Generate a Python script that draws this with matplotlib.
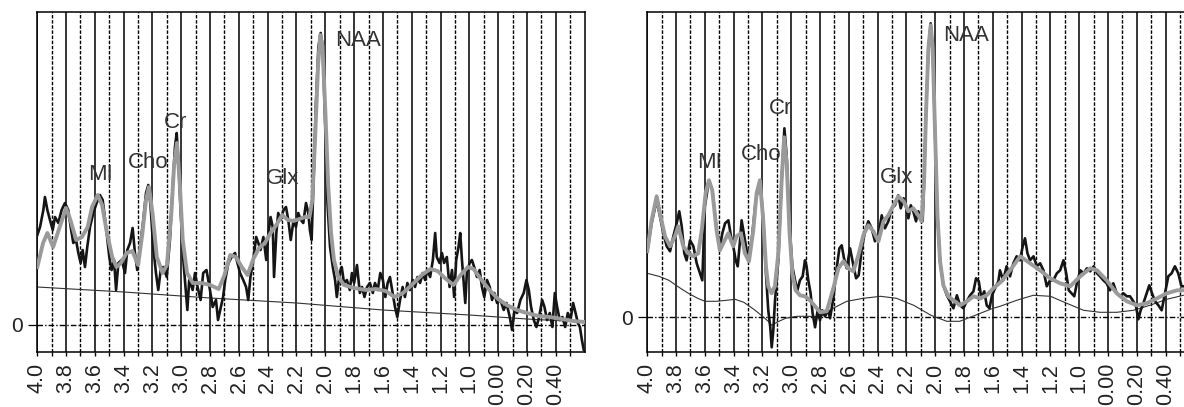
import numpy as np
import matplotlib
matplotlib.use("Agg")
import matplotlib.pyplot as plt

plt.rcParams['font.family'] = ['Liberation Sans', 'DejaVu Sans']

# x axis (ppm), labels as printed in the original figure
tick_values = [4.0, 3.8, 3.6, 3.4, 3.2, 3.0, 2.8, 2.6, 2.4, 2.2, 2.0,
               1.8, 1.6, 1.4, 1.2, 1.0, 0.8, 0.6, 0.4]
tick_labels = ['4.0', '3.8', '3.6', '3.4', '3.2', '3.0', '2.8', '2.6', '2.4', '2.2', '2.0',
               '1.8', '1.6', '1.4', '1.2', '1.0', '0.00', '0.20', '0.40']
odd_tenths = [3.9, 3.7, 3.5, 3.3, 3.1, 2.9, 2.7, 2.5, 2.3, 2.1, 1.9,
              1.7, 1.5, 1.3, 1.1, 0.9, 0.7, 0.5, 0.3]

peak_names = ['MI', 'Cho', 'Cr', 'Glx', 'NAA']

# ---- left spectrum ----
left_spec_ppm = [4.000, 3.981, 3.958, 3.947, 3.930, 3.912, 3.893, 3.877, 3.854, 3.831, 3.808, 3.785,
                 3.768, 3.750, 3.731, 3.715, 3.699, 3.685, 3.669, 3.653, 3.634, 3.611, 3.588, 3.565,
                 3.546, 3.523, 3.500, 3.484, 3.467, 3.453, 3.437, 3.414, 3.391, 3.375, 3.356, 3.338,
                 3.322, 3.306, 3.287, 3.264, 3.245, 3.229, 3.213, 3.195, 3.176, 3.160, 3.143, 3.125,
                 3.101, 3.079, 3.060, 3.044, 3.032, 3.018, 3.004, 2.986, 2.968, 2.958, 2.945, 2.921,
                 2.905, 2.887, 2.866, 2.848, 2.825, 2.801, 2.782, 2.759, 2.745, 2.730, 2.710, 2.695,
                 2.673, 2.650, 2.627, 2.610, 2.592, 2.570, 2.550, 2.535, 2.520, 2.500, 2.480, 2.465,
                 2.450, 2.430, 2.410, 2.395, 2.380, 2.365, 2.356, 2.340, 2.327, 2.310, 2.290, 2.273,
                 2.257, 2.240, 2.220, 2.204, 2.188, 2.170, 2.153, 2.134, 2.118, 2.107, 2.095, 2.083,
                 2.065, 2.048, 2.032, 2.018, 2.002, 1.985, 1.967, 1.948, 1.932, 1.920, 1.900, 1.886,
                 1.870, 1.850, 1.830, 1.815, 1.800, 1.780, 1.760, 1.745, 1.728, 1.710, 1.690, 1.670,
                 1.655, 1.636, 1.618, 1.600, 1.583, 1.567, 1.551, 1.532, 1.516, 1.500, 1.481, 1.463,
                 1.447, 1.430, 1.412, 1.393, 1.377, 1.360, 1.342, 1.323, 1.307, 1.290, 1.272, 1.253,
                 1.237, 1.226, 1.207, 1.190, 1.175, 1.156, 1.137, 1.120, 1.105, 1.091, 1.075, 1.063,
                 1.051, 1.040, 1.028, 1.017, 0.998, 0.982, 0.966, 0.947, 0.928, 0.912, 0.896, 0.877,
                 0.858, 0.842, 0.826, 0.807, 0.784, 0.761, 0.742, 0.719, 0.703, 0.686, 0.668, 0.645,
                 0.622, 0.603, 0.587, 0.571, 0.552, 0.534, 0.515, 0.494, 0.478, 0.460, 0.441, 0.423,
                 0.406, 0.390, 0.372, 0.353, 0.334, 0.316, 0.297, 0.279, 0.262, 0.246, 0.232, 0.218,
                 0.205]
left_spec = [90, 98, 115, 128, 115, 105, 95, 108, 102, 115, 122, 115,
             98, 82, 85, 72, 62, 75, 58, 78, 98, 112, 122, 130,
             125, 98, 68, 55, 65, 35, 62, 65, 52, 75, 82, 97,
             72, 55, 78, 105, 132, 140, 118, 78, 52, 35, 55, 58,
             48, 85, 138, 178, 192, 158, 112, 65, 32, 15, 45, 35,
             52, 38, 25, 52, 55, 35, 18, 25, 5, 15, 28, 45,
             62, 68, 72, 62, 52, 45, 38, 25, 48, 65, 88, 82,
             75, 88, 65, 92, 108, 98, 48, 92, 112, 105, 115, 118,
             105, 85, 105, 98, 112, 105, 102, 122, 112, 95, 85, 138,
             222, 278, 292, 278, 205, 122, 78, 58, 45, 28, 52, 58,
             42, 45, 35, 52, 42, 60, 32, 38, 28, 38, 42, 32,
             42, 35, 52, 45, 28, 42, 48, 32, 18, 8, 25, 38,
             28, 42, 35, 45, 38, 48, 42, 52, 45, 55, 48, 65,
             92, 68, 62, 72, 62, 68, 38, 55, 28, 65, 78, 92,
             65, 45, 22, 52, 62, 65, 58, 48, 55, 38, 28, 45,
             38, 25, 32, 22, 25, 15, 22, 8, -5, 15, 12, 25,
             32, 45, 35, 18, 5, -2, 8, 25, 18, 5, 12, -2,
             32, 18, 5, 8, -2, 12, 5, 22, 12, 2, -2, -15,
             -25]

left_fit_ppm = [4.00, 3.96, 3.93, 3.89, 3.84, 3.80, 3.77, 3.73, 3.69, 3.65, 3.62, 3.58, 3.55,
                3.52, 3.48, 3.45, 3.42, 3.38, 3.34, 3.30, 3.27, 3.245, 3.225, 3.20, 3.17, 3.13,
                3.10, 3.07, 3.05, 3.03, 3.01, 2.99, 2.96, 2.92, 2.86, 2.80, 2.74, 2.70, 2.66,
                2.62, 2.58, 2.54, 2.50, 2.46, 2.42, 2.38, 2.34, 2.30, 2.26, 2.22, 2.18, 2.14,
                2.11, 2.09, 2.07, 2.05, 2.035, 2.02, 2.00, 1.98, 1.96, 1.94, 1.91, 1.87, 1.80,
                1.72, 1.65, 1.58, 1.52, 1.46, 1.40, 1.33, 1.27, 1.22, 1.17, 1.11, 1.06, 1.01,
                0.97, 0.92, 0.86, 0.80, 0.74, 0.67, 0.60, 0.52, 0.44, 0.36, 0.28, 0.20]
left_fit = [58, 82, 92, 78, 100, 117, 105, 85, 88, 98, 118, 130, 120,
            95, 68, 58, 62, 72, 74, 60, 92, 125, 138, 112, 68, 52,
            60, 110, 160, 182, 140, 85, 52, 42, 42, 40, 36, 50, 70,
            68, 58, 50, 66, 77, 82, 92, 100, 110, 105, 104, 106, 108,
            108, 125, 190, 260, 290, 280, 215, 140, 92, 65, 48, 40, 37,
            35, 36, 34, 28, 32, 40, 50, 56, 54, 47, 40, 50, 58,
            56, 46, 35, 26, 20, 15, 12, 9, 8, 6, 4, 3]

left_base_ppm = [4.0, 3.4, 2.8, 2.2, 1.6, 1.0, 0.6, 0.2]
left_base = [38, 33, 27, 22, 15, 10, 6, 3]

# ---- right spectrum ----
right_spec_ppm = [4.000, 3.970, 3.935, 3.912, 3.889, 3.865, 3.842, 3.819, 3.796, 3.778, 3.761, 3.743,
                  3.727, 3.703, 3.680, 3.657, 3.634, 3.618, 3.610, 3.600, 3.572, 3.548, 3.518, 3.495,
                  3.479, 3.460, 3.437, 3.419, 3.403, 3.386, 3.372, 3.356, 3.345, 3.326, 3.303, 3.275,
                  3.247, 3.217, 3.194, 3.176, 3.160, 3.146, 3.136, 3.125, 3.113, 3.090, 3.067, 3.048,
                  3.032, 3.013, 2.993, 2.974, 2.958, 2.940, 2.921, 2.905, 2.894, 2.882, 2.866, 2.852,
                  2.835, 2.817, 2.801, 2.785, 2.766, 2.743, 2.731, 2.708, 2.685, 2.666, 2.650, 2.634,
                  2.615, 2.592, 2.569, 2.550, 2.532, 2.510, 2.488, 2.465, 2.442, 2.419, 2.395, 2.372,
                  2.350, 2.326, 2.303, 2.280, 2.257, 2.240, 2.220, 2.200, 2.187, 2.170, 2.153, 2.134,
                  2.118, 2.102, 2.088, 2.078, 2.065, 2.048, 2.032, 2.018, 2.002, 1.985, 1.967, 1.944,
                  1.920, 1.898, 1.874, 1.850, 1.828, 1.805, 1.782, 1.758, 1.735, 1.717, 1.698, 1.680,
                  1.660, 1.643, 1.624, 1.606, 1.585, 1.562, 1.551, 1.528, 1.505, 1.481, 1.458, 1.435,
                  1.412, 1.393, 1.377, 1.360, 1.342, 1.318, 1.295, 1.272, 1.249, 1.226, 1.203, 1.180,
                  1.156, 1.133, 1.110, 1.091, 1.073, 1.054, 1.035, 1.017, 0.993, 0.970, 0.947, 0.924,
                  0.900, 0.877, 0.856, 0.833, 0.810, 0.787, 0.764, 0.740, 0.717, 0.694, 0.670, 0.648,
                  0.625, 0.606, 0.590, 0.574, 0.555, 0.532, 0.514, 0.495, 0.474, 0.451, 0.428, 0.405,
                  0.382, 0.359, 0.336, 0.313, 0.290, 0.274]
right_spec = [66, 94, 117, 101, 84, 71, 66, 81, 94, 106, 91, 64,
              57, 77, 71, 54, 44, 37, 70, 111, 137, 127, 87, 71,
              84, 94, 97, 81, 71, 57, 51, 77, 97, 81, 61, 77,
              117, 137, 97, 44, 7, -10, -30, -13, 17, 57, 137, 189,
              161, 94, 51, 37, 27, 37, 41, 57, 51, 37, 24, 4,
              -10, 7, -3, 7, 1, 7, -1, 19, 49, 69, 72, 59,
              49, 69, 52, 39, 42, 69, 86, 96, 89, 76, 82, 102,
              89, 96, 109, 112, 122, 109, 119, 109, 99, 112, 106, 96,
              106, 99, 96, 136, 202, 269, 294, 269, 186, 102, 56, 32,
              22, 16, 9, 22, 12, 9, 16, 22, 26, 39, 36, 19,
              26, 12, 9, 22, 29, 36, 47, 37, 51, 41, 54, 61,
              57, 71, 79, 64, 57, 61, 51, 54, 47, 31, 37, 37,
              44, 47, 57, 44, 27, 24, 21, 34, 47, 44, 49, 46,
              51, 44, 41, 37, 34, 27, 34, 24, 21, 24, 21, 21,
              16, 11, -2, 7, 14, 24, 32, 24, 16, 12, 7, 24,
              41, 44, 51, 44, 31, 31]

right_fit_ppm = [4.0, 3.97, 3.935, 3.912, 3.877, 3.842, 3.808, 3.785, 3.75, 3.715, 3.68, 3.646,
                 3.622, 3.595, 3.572, 3.549, 3.519, 3.496, 3.473, 3.438, 3.403, 3.38, 3.35, 3.322,
                 3.294, 3.264, 3.241, 3.218, 3.195, 3.176, 3.16, 3.137, 3.114, 3.09, 3.067, 3.05,
                 3.032, 3.013, 2.993, 2.97, 2.94, 2.905, 2.87, 2.835, 2.80, 2.754, 2.708, 2.673,
                 2.638, 2.604, 2.569, 2.534, 2.50, 2.465, 2.43, 2.395, 2.36, 2.326, 2.29, 2.257,
                 2.22, 2.187, 2.153, 2.118, 2.095, 2.078, 2.065, 2.048, 2.032, 2.018, 2.002, 1.985,
                 1.967, 1.944, 1.91, 1.874, 1.828, 1.78, 1.735, 1.69, 1.643, 1.597, 1.54, 1.481,
                 1.41, 1.342, 1.272, 1.203, 1.133, 1.063, 0.993, 0.924, 0.877, 0.81, 0.74, 0.67,
                 0.60, 0.532, 0.46, 0.393, 0.32, 0.274]
right_fit = [66, 97, 121, 104, 81, 71, 81, 91, 71, 64, 61, 64,
             87, 124, 137, 127, 87, 67, 74, 84, 71, 81, 84, 64,
             56, 87, 124, 137, 97, 51, 31, 24, 31, 64, 137, 180,
             154, 87, 44, 27, 22, 21, 17, 11, 5, 6, 29, 49,
             56, 49, 46, 62, 82, 92, 86, 76, 96, 102, 112, 121,
             116, 106, 109, 102, 96, 136, 202, 269, 292, 269, 186, 102,
             56, 32, 21, 17, 12, 16, 21, 19, 22, 29, 36, 47,
             61, 54, 47, 39, 34, 31, 41, 49, 47, 37, 24, 16,
             12, 14, 19, 24, 27, 27]

right_base_ppm = [4.0, 3.92, 3.85, 3.78, 3.715, 3.65, 3.6, 3.52, 3.45, 3.39, 3.33, 3.26,
                  3.2, 3.16, 3.136, 3.10, 3.04, 2.96, 2.88, 2.80, 2.71, 2.615, 2.50, 2.38,
                  2.27, 2.15, 2.03, 1.92, 1.83, 1.74, 1.60, 1.55, 1.435, 1.32, 1.20, 1.087,
                  0.97, 0.856, 0.74, 0.625, 0.51, 0.393, 0.277]
right_base = [44, 41, 37, 30, 24, 19, 16, 16, 17, 18, 15, 8,
              1, -4, -8, -5, -1, 1, 1, 0.5, 9, 16, 19, 21,
              19, 12, 2, -4, -4, 1, 9, 11, 17, 22, 21, 14,
              7, 5, 5, 7, 12, 18, 22]

W, H = 1184, 407
fig = plt.figure(figsize=(W / 100, H / 100), dpi=100)
fig.patch.set_facecolor('white')

# axes boxes in pixels: left, right, top, bottom
ax_left = fig.add_axes([37.3 / W, (H - 352) / H, (584.5 - 37.3) / W, (352 - 12) / H])
ax_right = fig.add_axes([647.3 / W, (H - 351.7) / H, (W - 647.3) / W, (351.7 - 12) / H])

panels = [
    (ax_left, (4.0, 0.2), (-27, 313),
     left_spec_ppm, left_spec, left_fit_ppm, left_fit, left_base_ppm, left_base,
     [(3.564, 151), (3.23, 163), (3.037, 202), (2.295, 147), (1.774, 285)]),
    (ax_right, (4.0, 4.0 - (W - 647.3) / 144), (-34.4, 305.3),
     right_spec_ppm, right_spec, right_fit_ppm, right_fit, right_base_ppm, right_base,
     [(3.565, 155), (3.21, 163), (3.072, 209), (2.266, 140), (1.787, 282)]),
]

for ax, xl, yl, sx, sy, fx, fy, bx, by, label_pos in panels:
    ax.set_xlim(*xl)
    ax.set_ylim(*yl)

    for v in tick_values:
        ax.axvline(v, color='black', lw=1.1, zorder=1)
    for v in odd_tenths:
        ax.axvline(v, color='black', lw=1.0, ls=(0, (2.5, 1.2)), zorder=1)
    ax.axhline(0, color='black', lw=1.0, ls=(0, (4, 1.5, 1, 1.5)), zorder=1)

    ax.plot(bx, by, color='#333333', lw=0.8, zorder=2)
    ax.plot(sx, sy, color='#151515', lw=1.9, zorder=3)
    ax.plot(fx, fy, color='#9a9a9a', lw=2.8, zorder=4)

    for name, (px, py) in zip(peak_names, label_pos):
        ax.text(px, py, name, ha='center', va='center', fontsize=16,
                color='#333333', zorder=5)

    ax.set_xticks(tick_values)
    ax.set_xticklabels(tick_labels, rotation=90, fontsize=15.5, color='#222222')
    ax.set_xticks(odd_tenths, minor=True)
    ax.tick_params(axis='x', which='both', direction='out', length=3, width=1, pad=5)
    ax.set_yticks([0])
    ax.set_yticklabels(['0'], fontsize=15, color='#222222')
    ax.tick_params(axis='y', length=6.5, width=0.9, pad=4)
    for s in ax.spines.values():
        s.set_linewidth(1.1)

ax_right.spines['right'].set_visible(False)

fig.savefig('out.png', dpi=100, facecolor='white')
